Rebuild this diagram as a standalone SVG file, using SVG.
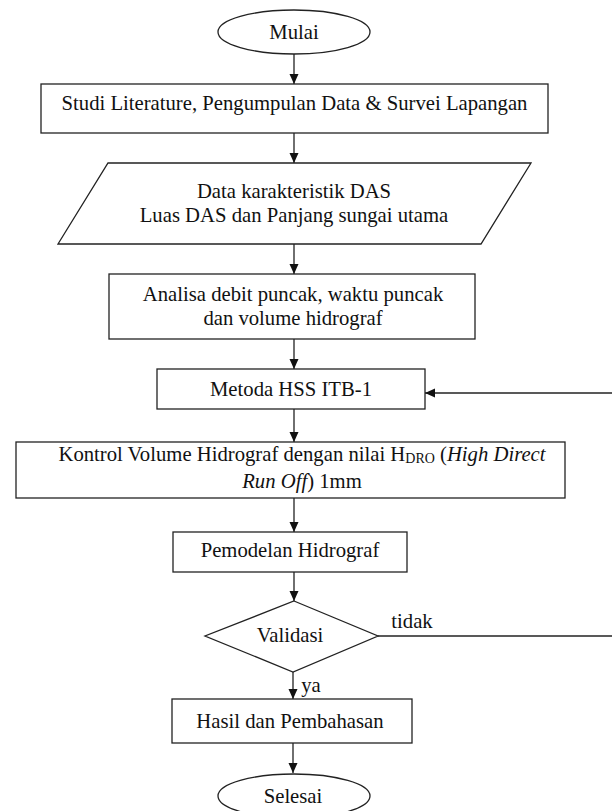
<svg xmlns="http://www.w3.org/2000/svg" width="613" height="811" viewBox="0 0 613 811">
<style>
.s{fill:#fff;stroke:#222;stroke-width:1.3}
.t{font-family:"Liberation Serif","Times New Roman",serif;font-size:20.7px;fill:#111;text-anchor:middle}
.c{fill:none;stroke:#222;stroke-width:1.3}
</style>
<defs>
<marker id="ah" markerUnits="userSpaceOnUse" markerWidth="10" markerHeight="10" viewBox="0 0 10 10" refX="10" refY="5" orient="auto">
<path d="M0,0.5 L10,5 L0,9.5 Z" fill="#111"/>
</marker>
</defs>
<rect width="613" height="811" fill="#fff"/>
<g id="connectors">
<line class="c" x1="294" y1="54" x2="294" y2="84" marker-end="url(#ah)"/>
<line class="c" x1="294" y1="133" x2="294" y2="163" marker-end="url(#ah)"/>
<line class="c" x1="294" y1="244" x2="294" y2="274" marker-end="url(#ah)"/>
<line class="c" x1="294" y1="339" x2="294" y2="369" marker-end="url(#ah)"/>
<line class="c" x1="612" y1="393" x2="425" y2="393" marker-end="url(#ah)"/>
<line class="c" x1="294" y1="409" x2="294" y2="442" marker-end="url(#ah)"/>
<line class="c" x1="294" y1="498" x2="294" y2="532" marker-end="url(#ah)"/>
<line class="c" x1="294" y1="572" x2="294" y2="601" marker-end="url(#ah)"/>
<line class="c" x1="378" y1="636" x2="612" y2="636"/>
<line class="c" x1="293" y1="672" x2="293" y2="699" marker-end="url(#ah)"/>
<line class="c" x1="293" y1="743" x2="293" y2="773" marker-end="url(#ah)"/>
<text class="t" x="412" y="628">tidak</text>
<text class="t" x="311" y="692">ya</text>
</g>
<g id="mulai">
<ellipse class="s" cx="294" cy="32" rx="76" ry="22"/>
<text class="t" x="294" y="39">Mulai</text>
</g>
<g id="studi">
<rect class="s" x="41" y="84" width="507" height="49"/>
<text class="t" x="294.5" y="110">Studi Literature, Pengumpulan Data &amp; Survei Lapangan</text>
</g>
<g id="data">
<polygon class="s" points="108,163 531,163 481,244 58,244"/>
<text class="t" x="294" y="198">Data karakteristik DAS</text>
<text class="t" x="294" y="222">Luas DAS dan Panjang sungai utama</text>
</g>
<g id="analisa">
<rect class="s" x="109" y="274" width="366" height="65"/>
<text class="t" x="293" y="301">Analisa debit puncak, waktu puncak</text>
<text class="t" x="293" y="325">dan volume hidrograf</text>
</g>
<g id="metoda">
<rect class="s" x="157" y="369" width="268" height="40"/>
<text class="t" x="291" y="396">Metoda HSS ITB-1</text>
</g>
<g id="kontrol">
<rect class="s" x="16" y="442" width="549" height="56"/>
<text class="t" x="302" y="461">Kontrol Volume Hidrograf dengan nilai H<tspan font-size="14" dy="2">DRO</tspan><tspan dy="-2"> (</tspan><tspan font-style="italic">High Direct</tspan></text>
<text class="t" x="302" y="488"><tspan font-style="italic">Run Off</tspan>) 1mm</text>
</g>
<g id="pemodelan">
<rect class="s" x="173" y="532" width="234" height="40"/>
<text class="t" x="290" y="557">Pemodelan Hidrograf</text>
</g>
<g id="validasi">
<polygon class="s" points="294,601 378,636 293,672 205,636"/>
<text class="t" x="290" y="642">Validasi</text>
</g>
<g id="hasil">
<rect class="s" x="172" y="699" width="240" height="44"/>
<text class="t" x="290" y="728">Hasil dan Pembahasan</text>
</g>
<g id="selesai">
<ellipse class="s" cx="294" cy="796" rx="76" ry="22"/>
<text class="t" x="293" y="803">Selesai</text>
</g>
</svg>
